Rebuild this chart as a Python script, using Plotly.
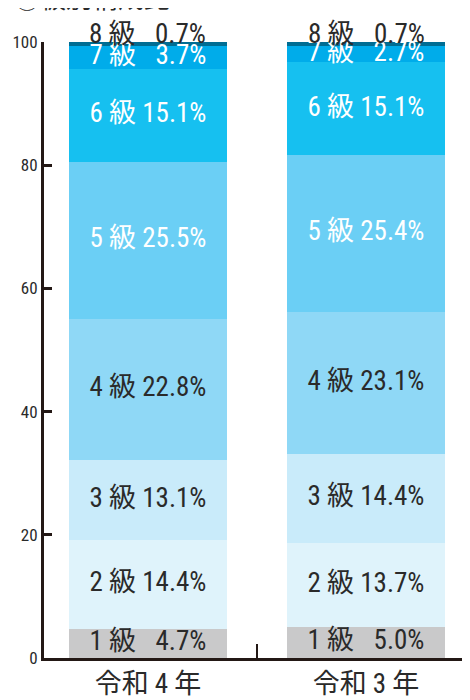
import plotly.graph_objects as go
import numpy as np

categories = ["令和 4 年", "令和 3 年"]
grades = ["1 級", "2 級", "3 級", "4 級", "5 級", "6 級", "7 級", "8 級"]
r4_values = [4.7, 14.4, 13.1, 22.8, 25.5, 15.1, 3.7, 0.7]
r3_values = [5.0, 13.7, 14.4, 23.1, 25.4, 15.1, 2.7, 0.7]
y_ticks = [0, 20, 40, 60, 80, 100]
Y_MAX = 100

colors = ["#c9c9ca", "#dff3fb", "#c9ebfa", "#8fd8f6", "#6bcff5", "#16c0f0", "#00acea", "#006d93"]
text_colors = ["#2a2a2a", "#2a2a2a", "#2a2a2a", "#2a2a2a", "#ffffff", "#ffffff", "#ffffff", "#2a2a2a"]

FONT = ("Roboto Condensed, Noto Sans Condensed, Liberation Sans Narrow, "
        "DejaVu Sans Condensed, Noto Sans CJK JP, sans-serif")

fig = go.Figure()
series = [r4_values, r3_values]
for i, g in enumerate(grades):
    fig.add_trace(go.Bar(
        x=categories, y=[s[i] for s in series],
        marker=dict(color=colors[i], line=dict(width=0)),
        width=0.725, showlegend=False, hoverinfo="skip",
    ))


def fmt(g, v):
    s = f"{v:.1f}%"
    if v < 10:
        return f"{g} \u2007{s}"
    return f"{g} {s}"


tx, ty, tt, tc = [], [], [], []
for ci, cat in enumerate(categories):
    vals = series[ci]
    cum = np.cumsum([0] + vals)
    for i, g in enumerate(grades):
        if i == len(grades) - 1:
            fig.add_annotation(
                x=cat, y=min(cum[i + 1], Y_MAX), text=fmt(g, vals[i]), showarrow=False,
                yanchor="middle", yshift=8,
                font=dict(family=FONT, size=27, color=text_colors[i]),
            )
            continue
        tx.append(cat)
        ty.append((cum[i] + cum[i + 1]) / 2)
        tt.append(fmt(g, vals[i]))
        tc.append(text_colors[i])

fig.add_trace(go.Scatter(
    x=tx, y=ty, text=tt, mode="text",
    textfont=dict(family=FONT, size=27, color=tc),
    textposition="middle center", showlegend=False, hoverinfo="skip",
    cliponaxis=False,
))

fig.add_annotation(
    text="②級別構成比", xref="paper", yref="paper", x=-0.075, y=1.041,
    xanchor="left", yanchor="bottom", showarrow=False,
    font=dict(family="Noto Sans CJK JP", size=26, color="#2a2a2a"),
)

fig.update_layout(
    width=462, height=692,
    margin=dict(l=36, r=0, t=34, b=40),
    barmode="stack", bargap=0,
    plot_bgcolor="white", paper_bgcolor="white",
    font=dict(family=FONT, color="#2a2a2a"),
)
fig.update_xaxes(
    range=[-0.477, 1.477], showgrid=False, zeroline=False,
    showline=True, linecolor="#231815", linewidth=3,
    ticks="inside", tickson="boundaries", ticklen=14, tickwidth=2, tickcolor="#231815",
    tickfont=dict(family=FONT, size=27, color="#2a2a2a"),
)
fig.update_yaxes(
    range=[0, Y_MAX], tickvals=y_ticks, showgrid=False, zeroline=False,
    showline=True, linecolor="#231815", linewidth=3,
    ticks="inside", ticklen=8, tickwidth=3, tickcolor="#231815",
    tickfont=dict(family=FONT, size=17, color="#2a2a2a"),
)

fig.write_html("out.html")
